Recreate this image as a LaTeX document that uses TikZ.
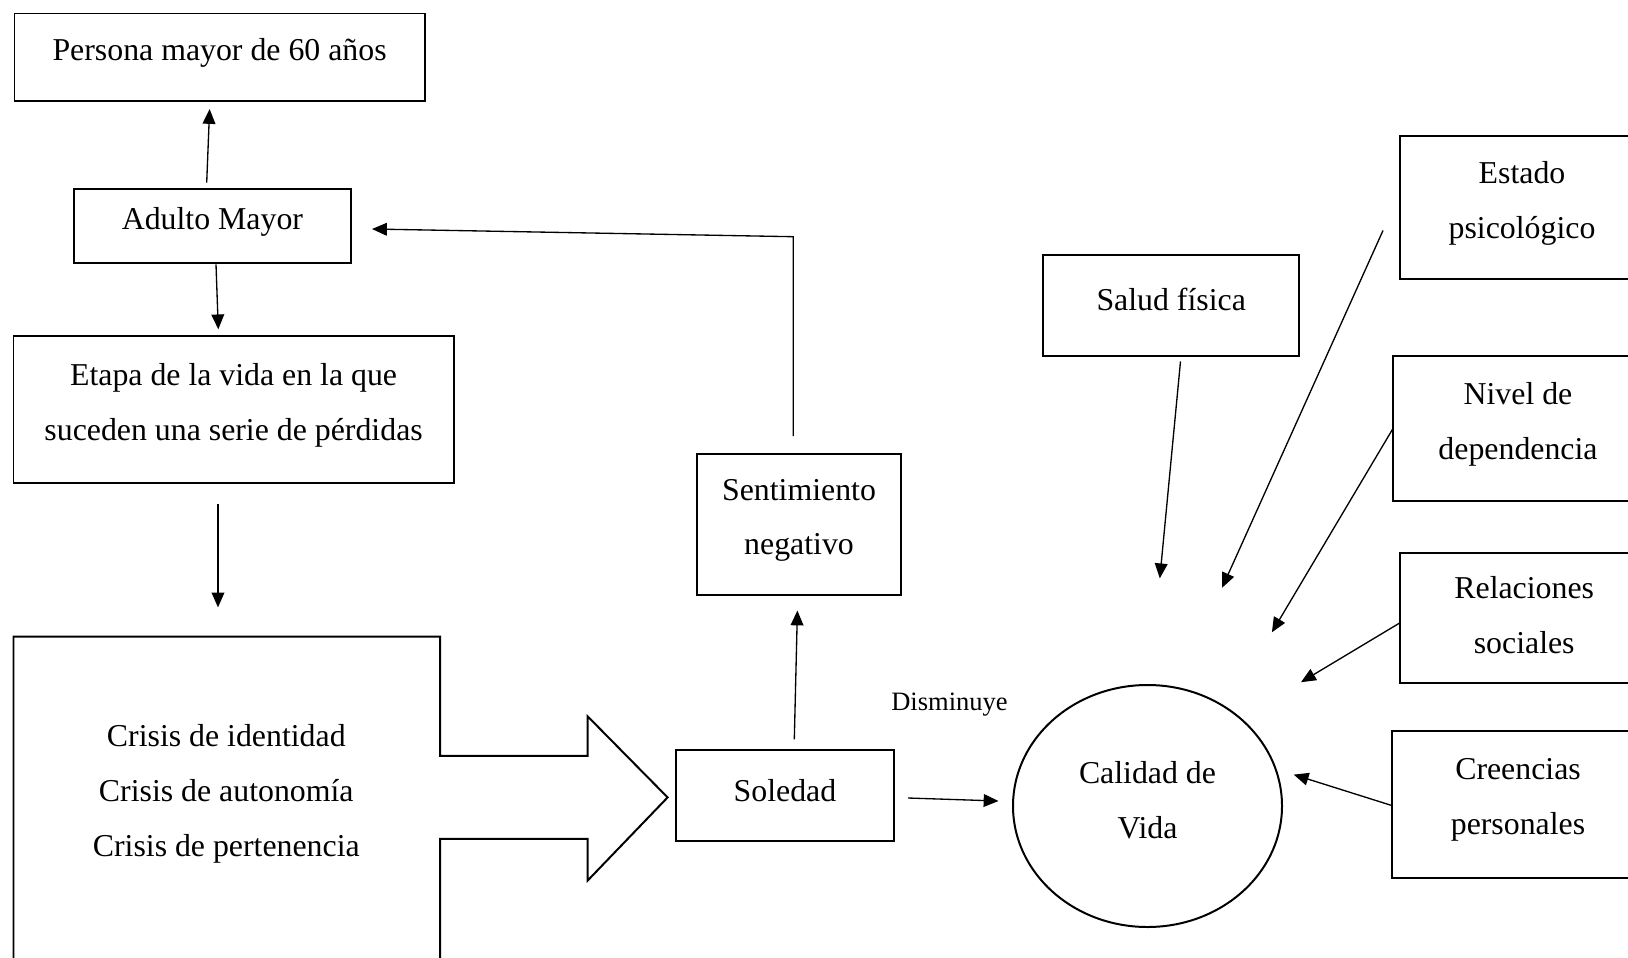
\documentclass[tikz,border=0pt]{standalone}
\usepackage{fontspec}
\setmainfont{Liberation Serif}
\usetikzlibrary{arrows.meta}
\begin{document}
\begin{tikzpicture}[x=0.377pt,y=-0.377pt,
  bx/.style n args={2}{draw,line width=0.75pt,inner sep=0pt,outer sep=0pt,
     minimum width=#1*0.377pt,minimum height=#2*0.377pt},
  txt/.style={font=\fontsize{12}{20.7}\selectfont,align=center,inner sep=0pt},
  arr/.style={line width=0.5pt,-{Triangle[length=5.6pt,width=4.8pt]}},
  ln/.style={line width=0.5pt}]
\useasboundingbox (0,0) rectangle (1628,957);
\begin{scope}
\clip (0,0) rectangle (1628,957);
% boxes
\node[bx={410.2}{87.2}, label={[txt,yshift=1.5pt]center:Persona mayor de 60 años}] (persona) at (219.6,57.1) {};
\node[bx={277.3}{73.7}, label={[txt,yshift=1.5pt]center:Adulto Mayor}] (adulto) at (212.4,225.8) {};
\node[bx={440.2}{146.4}, label={[txt,yshift=1.6pt]center:Etapa de la vida en la que\\suceden una serie de pérdidas}] (etapa) at (233.6,409.6) {};
\node[bx={204.5}{141.3}, label={[txt,yshift=1.5pt]center:Sentimiento\\negativo}] (sentim) at (799,524.4) {};
\node[bx={218.1}{91.4}, label={[txt,yshift=1.8pt]center:Soledad}] (soledad) at (785,795.3) {};
\node[bx={255.5}{100.7}, label={[txt,yshift=2.3pt]center:Salud física}] (salud) at (1171.2,305.8) {};
\node[bx={244.8}{143.3}, label={[txt,yshift=1.5pt]center:Estado\\psicológico}] (estado) at (1522,207.7) {};
\node[bx={249.2}{144.4}, label={[txt,yshift=1.6pt]center:Nivel de\\dependencia}] (nivel) at (1518,428.3) {};
\node[bx={249.2}{129.8}, label={[txt,yshift=1.3pt]center:Relaciones\\sociales}] (relac) at (1524.2,618.3) {};
\node[bx={251.2}{147.4}, label={[txt,yshift=1.7pt]center:Creencias\\personales}] (creen) at (1518,804.7) {};
% ellipse
\draw[line width=0.75pt] (1147.5,806) ellipse [x radius=134.5*0.377pt, y radius=121*0.377pt];
\node[txt] (calidad) at (1147.5,800.5) {Calidad de\\Vida};
% crisis arrow shape
\draw[line width=0.75pt] (13.5,980) -- (13.5,636.5) -- (440.2,636.5) -- (440.2,755.9)
  -- (587.7,755.9) -- (587.7,716.4) -- (667.6,797.4) -- (587.7,880.5) -- (587.7,838.9)
  -- (440.2,838.9) -- (440.2,980);
\node[txt] (crisis) at (226.3,794.2) {Crisis de identidad\\Crisis de autonomía\\Crisis de pertenencia};
\node[font=\fontsize{10}{12}\selectfont,inner sep=0pt] (dismin) at (949.5,705) {Disminuye};
% connector endpoints
\coordinate (a1s) at (206.7,182.7); \coordinate (a1e) at (209.6,109);
\coordinate (a2s) at (216,264.3); \coordinate (a2e) at (218.3,329.3);
\coordinate (a3s) at (218,503.6); \coordinate (a3e) at (218,607.4);
\coordinate (a4s) at (794.3,739.3); \coordinate (a4e) at (797.4,610.5);
\coordinate (a5s) at (793.3,436.1); \coordinate (a5m) at (793.3,236.7); \coordinate (a5e) at (372,229);
\coordinate (a6s) at (908,798); \coordinate (a6e) at (998.5,801);
\coordinate (a7s) at (1180.5,361.3); \coordinate (a7e) at (1159.8,578.3);
\coordinate (a8s) at (1383,230.5); \coordinate (a8e) at (1222.1,587.7);
\coordinate (a9s) at (1393.4,427.8); \coordinate (a9e) at (1271.9,632.3);
\coordinate (a10s) at (1399.6,623); \coordinate (a10e) at (1301,682.2);
\coordinate (a11s) at (1392.4,805.7); \coordinate (a11e) at (1293.7,774.6);
\end{scope}
\draw[arr] (a1s) -- (a1e);
\draw[arr] (a2s) -- (a2e);
\draw[arr] (a3s) -- (a3e);
\draw[arr] (a4s) -- (a4e);
\draw[arr] (a5s) -- (a5m) -- (a5e);
\draw[arr] (a6s) -- (a6e);
\draw[arr] (a7s) -- (a7e);
\draw[arr] (a8s) -- (a8e);
\draw[arr] (a9s) -- (a9e);
\draw[arr] (a10s) -- (a10e);
\draw[arr] (a11s) -- (a11e);
\end{tikzpicture}
\end{document}
